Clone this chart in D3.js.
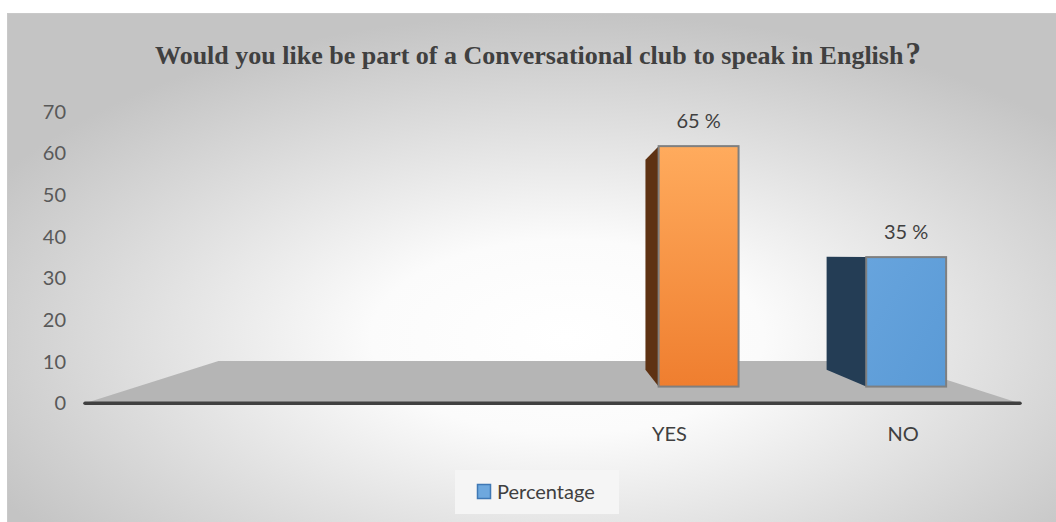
<!DOCTYPE html>
<html><head><meta charset="utf-8">
<script src="https://cdn.jsdelivr.net/npm/d3@7"></script>
<style>body{margin:0;background:#fff}svg{display:block}</style>
</head><body>
<svg id="c" width="1056" height="522"></svg>
<script>
const categories = ["", "", "YES", "NO"];
const values = [null, null, 65, 35];
const valueLabels = ["", "", "65 %", "35 %"];
const yTicks = [0, 10, 20, 30, 40, 50, 60, 70];
const seriesName = "Percentage";
const titleText = "Would you like be part of a Conversational club to speak in English";

const svg = d3.select("#c");
const W = 1056, H = 522;
const defs = svg.append("defs");

const bg = defs.append("radialGradient").attr("id","bg")
  .attr("cx","53%").attr("cy","62%").attr("r","62%");
bg.append("stop").attr("offset","0%").attr("stop-color","#ffffff");
bg.append("stop").attr("offset","30%").attr("stop-color","#fbfbfb");
bg.append("stop").attr("offset","100%").attr("stop-color","#c4c4c4");

const og = defs.append("linearGradient").attr("id","og").attr("x1",0).attr("y1",0).attr("x2",0).attr("y2",1);
og.append("stop").attr("offset","0%").attr("stop-color","#ffab5d");
og.append("stop").attr("offset","100%").attr("stop-color","#ef7e2f");
const bgr = defs.append("linearGradient").attr("id","bgr").attr("x1",0).attr("y1",0).attr("x2",1).attr("y2",1);
bgr.append("stop").attr("offset","0%").attr("stop-color","#67a4dd");
bgr.append("stop").attr("offset","100%").attr("stop-color","#5a9ad6");

// chart area
svg.append("rect").attr("x",7.5).attr("y",13.5).attr("width",W).attr("height",H)
  .attr("fill","url(#bg)").attr("stroke","#c9c9c9").attr("stroke-width",1);

// title
const title = svg.append("text").attr("x",538).attr("y",64).attr("text-anchor","middle")
  .attr("font-family","'Liberation Serif','Times New Roman',serif").attr("font-weight","bold")
  .attr("font-size",26).attr("fill","#404040");
title.append("tspan").text(titleText);
title.append("tspan").attr("font-size",31).attr("dx",2).text("?");

// scales (front plane)
const x = d3.scaleBand().domain(d3.range(categories.length)).range([85, 1020]).padding(0);
const y = d3.scaleLinear().domain([0, 70]).range([403.3, 111.7]);
const vp = {x: 555, y: 254};
const proj = (px, py, t) => [px + t * (vp.x - px), py + t * (vp.y - py)];
const floorDepth = 0.284, tFront = 0.112, tBack = 0.225;

// y tick labels
svg.append("g").selectAll("text").data(yTicks).join("text")
  .attr("x", 66).attr("y", d => y(d)).attr("dy","0.35em").attr("text-anchor","end")
  .attr("font-family","Lato, 'Open Sans', sans-serif").attr("font-size",20).attr("fill","#595959")
  .text(d => d);

// floor
const x0 = x.range()[0], x1 = x.range()[1], y0 = y(0);
const floorPts = [proj(x0,y0,0), proj(x0,y0,floorDepth), proj(x1,y0,floorDepth), proj(x1,y0,0)];
svg.append("polygon").attr("points", floorPts.map(p=>p.join(",")).join(" "))
  .attr("fill","#b5b5b5");
svg.append("line").attr("x1",x0).attr("x2",x1).attr("y1",y0).attr("y2",y0)
  .attr("stroke","#404040").attr("stroke-width",3.5).attr("stroke-linecap","round");

// bars
const bw = x.bandwidth();
const sideCol = ["#5e3213", "#243d55"];
const frontCol = ["url(#og)", "url(#bgr)"];
const bars = categories.map((c,i)=>({c,i,v:values[i],lab:valueLabels[i]})).filter(d=>d.v!=null);
const gB = svg.append("g");
bars.forEach((d,k) => {
  const bl = x(d.i) + bw*0.51, br = bl + bw*0.385;
  const top = y(d.v), bot = y(0);
  const side = [proj(bl,top,tFront), proj(bl,top,tBack), proj(bl,bot,tBack), proj(bl,bot,tFront)];
  gB.append("polygon").attr("points", side.map(p=>p.join(",")).join(" ")).attr("fill", sideCol[k]);
  const ftl = proj(bl,top,tFront), fbr = proj(br,bot,tFront);
  gB.append("rect").attr("x",ftl[0]).attr("y",ftl[1]).attr("width",fbr[0]-ftl[0]).attr("height",fbr[1]-ftl[1])
    .attr("fill",frontCol[k]).attr("stroke","#7f7f7f").attr("stroke-width",2);
  gB.append("text").attr("x",(ftl[0]+fbr[0])/2).attr("y",ftl[1]-25).attr("dy","0.35em")
    .attr("text-anchor","middle").attr("font-family","Lato, 'Open Sans', sans-serif")
    .attr("font-size",20).attr("fill","#404040").text(d.lab);
});

// category labels
svg.append("g").selectAll("text").data(categories).join("text")
  .attr("x",(d,i)=>x(i)+bw/2).attr("y",433.5).attr("dy","0.35em").attr("text-anchor","middle")
  .attr("font-family","Lato, 'Open Sans', sans-serif").attr("font-size",20).attr("fill","#404040")
  .text(d=>d);

// legend
const lg = svg.append("g");
lg.append("rect").attr("x",455).attr("y",470).attr("width",164).attr("height",44).attr("fill","#f5f5f5");
lg.append("rect").attr("x",477.5).attr("y",484.5).attr("width",13).attr("height",14)
  .attr("fill","#6ea8de").attr("stroke","#3f78b5").attr("stroke-width",1.5);
lg.append("text").attr("x",497).attr("y",492).attr("dy","0.35em")
  .attr("font-family","Lato, 'Open Sans', sans-serif").attr("font-size",20).attr("fill","#404040")
  .text(seriesName);
</script>
</body></html>
